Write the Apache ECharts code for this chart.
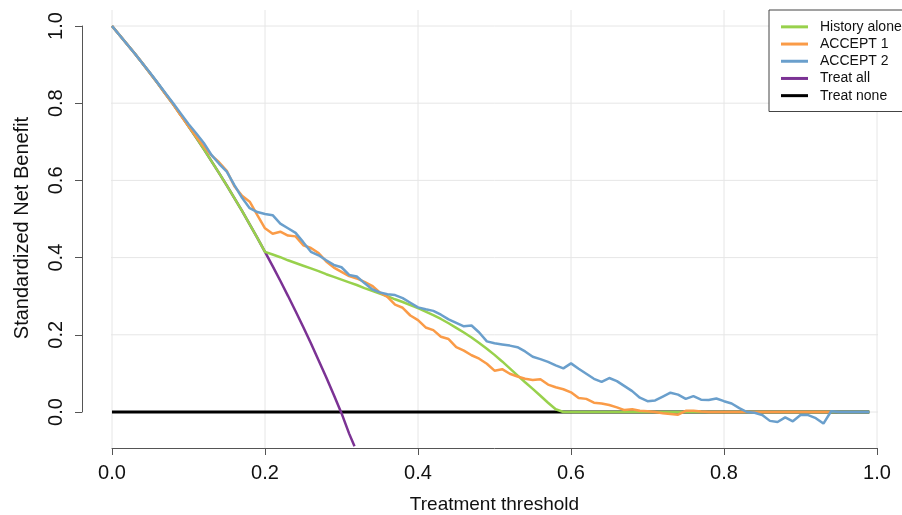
<!DOCTYPE html>
<html>
<head>
<meta charset="utf-8">
<script src="https://cdn.jsdelivr.net/npm/echarts@6/dist/echarts.min.js"></script>
<style>html,body{margin:0;padding:0;background:#fff;}#c{width:902px;height:515px;}</style>
</head>
<body>
<div id="c"></div>
<script>
// ---- data ----
var thresholds = [0.00,0.01,0.02,0.03,0.04,0.05,0.06,0.07,0.08,0.09,0.10,0.11,0.12,0.13,0.14,0.15,0.16,0.17,0.18,0.19,0.20,0.21,0.22,0.23,0.24,0.25,0.26,0.27,0.28,0.29,0.30,0.31,0.32,0.33,0.34,0.35,0.36,0.37,0.38,0.39,0.40,0.41,0.42,0.43,0.44,0.45,0.46,0.47,0.48,0.49,0.50,0.51,0.52,0.53,0.54,0.55,0.56,0.57,0.58,0.59,0.60,0.61,0.62,0.63,0.64,0.65,0.66,0.67,0.68,0.69,0.70,0.71,0.72,0.73,0.74,0.75,0.76,0.77,0.78,0.79,0.80,0.81,0.82,0.83,0.84,0.85,0.86,0.87,0.88,0.89,0.90,0.91,0.92,0.93,0.94,0.95,0.96,0.97,0.98,0.99];
var historyAlone = [1.000,0.976,0.952,0.928,0.903,0.877,0.851,0.824,0.797,0.769,0.740,0.711,0.681,0.650,0.619,0.587,0.554,0.521,0.486,0.451,0.415,0.408,0.401,0.393,0.386,0.379,0.372,0.365,0.357,0.350,0.343,0.336,0.329,0.321,0.314,0.307,0.300,0.292,0.285,0.277,0.269,0.260,0.251,0.241,0.230,0.218,0.206,0.193,0.179,0.164,0.148,0.131,0.113,0.095,0.077,0.060,0.042,0.024,0.007,0,0,0,0,0,0,0,0,0,0,0,0,0,0,0,0,0,0,0,0,0,0,0,0,0,0,0,0,0,0,0,0,0,0,0,0,0,0,0,0,0];
var accept1 = [1.000,0.976,0.952,0.928,0.903,0.877,0.851,0.823,0.797,0.768,0.741,0.714,0.688,0.665,0.647,0.625,0.585,0.560,0.545,0.510,0.476,0.462,0.467,0.457,0.455,0.432,0.425,0.412,0.390,0.374,0.363,0.352,0.346,0.337,0.327,0.310,0.298,0.278,0.270,0.250,0.238,0.219,0.212,0.195,0.189,0.168,0.159,0.147,0.138,0.125,0.107,0.111,0.099,0.092,0.086,0.083,0.085,0.071,0.064,0.059,0.051,0.036,0.034,0.024,0.022,0.018,0.012,0.005,0.007,0.003,0.002,0.000,-0.003,-0.005,-0.007,0.003,0.003,0.001,0,0,0,0,0,0,0,0,0,0,0,0,0,0,0,0,0];
var accept2 = [1.000,0.976,0.952,0.928,0.903,0.878,0.852,0.826,0.800,0.773,0.746,0.722,0.697,0.666,0.643,0.623,0.588,0.555,0.528,0.518,0.513,0.510,0.488,0.476,0.464,0.440,0.415,0.406,0.393,0.381,0.375,0.355,0.351,0.334,0.318,0.310,0.305,0.303,0.295,0.283,0.271,0.266,0.262,0.252,0.240,0.231,0.222,0.224,0.206,0.183,0.178,0.175,0.172,0.168,0.157,0.143,0.137,0.130,0.121,0.113,0.126,0.112,0.099,0.086,0.078,0.088,0.080,0.067,0.054,0.037,0.028,0.030,0.040,0.050,0.045,0.034,0.041,0.032,0.031,0.035,0.028,0.022,0.010,0.000,-0.002,-0.008,-0.023,-0.026,-0.014,-0.024,-0.008,-0.008,-0.016,-0.030,0.002,0,0,0,0,0];
var treatAllX = [0.00,0.01,0.02,0.03,0.04,0.05,0.06,0.07,0.08,0.09,0.10,0.11,0.12,0.13,0.14,0.15,0.16,0.17,0.18,0.19,0.20,0.21,0.22,0.23,0.24,0.25,0.26,0.27,0.28,0.29,0.30,0.31,0.317];
var treatAll = [1.000,0.976,0.952,0.928,0.903,0.877,0.851,0.824,0.797,0.769,0.740,0.711,0.681,0.650,0.619,0.587,0.554,0.521,0.486,0.451,0.415,0.378,0.340,0.301,0.261,0.220,0.178,0.134,0.090,0.044,-0.003,-0.056,-0.089];
var treatNoneX = [0.00,0.99];
var treatNone = [0,0];
var tickValues = [0.0,0.2,0.4,0.6,0.8,1.0];
var plotRangeX = [-0.04,1.04];
var plotRangeY = [-0.0933,1.0415];

function pairs(xs, ys){ return ys.map(function(v,i){ return [xs[i], v]; }); }

var FONT = '"Liberation Sans", Arial, Helvetica, sans-serif';
var chart = echarts.init(document.getElementById('c'), null, {renderer:'canvas'});
function lineSeries(name, data, color, width, z){
  return {name:name, type:'line', data:data, symbol:'none', clip:false, z:z,
          lineStyle:{color:color, width:width}, itemStyle:{color:color}, animation:false};
}
var gridSeries = [];
tickValues.forEach(function(t){
  gridSeries.push({type:'line', silent:true, symbol:'none', clip:false, z:0, animation:false,
    data:[[t, plotRangeY[0]],[t, plotRangeY[1]]], lineStyle:{color:'#e6e6e6', width:1}});
  gridSeries.push({type:'line', silent:true, symbol:'none', clip:false, z:0, animation:false,
    data:[[plotRangeX[0], t],[plotRangeX[1], t]], lineStyle:{color:'#e6e6e6', width:1}});
});

chart.setOption({
  animation:false,
  backgroundColor:'#fff',
  grid:{left:112, width:765, top:26, height:386, outerBoundsMode:'none', containLabel:false},
  xAxis:{type:'value', min:0, max:1, interval:0.2, offset:36,
    axisLine:{show:true, onZero:false, lineStyle:{color:'#555', width:1}},
    axisTick:{show:true, length:7, lineStyle:{color:'#555'}},
    axisLabel:{fontSize:20, color:'#111', margin:15, fontFamily:FONT, formatter:function(v){return v.toFixed(1);}},
    splitLine:{show:false},
    name:'Treatment threshold', nameLocation:'middle', nameGap:47,
    nameTextStyle:{fontSize:19, color:'#111', fontFamily:FONT}},
  yAxis:{type:'value', min:0, max:1, interval:0.2, offset:30,
    axisLine:{show:true, onZero:false, lineStyle:{color:'#555', width:1}},
    axisTick:{show:true, length:7, lineStyle:{color:'#555'}},
    axisLabel:{fontSize:20, color:'#111', margin:16, rotate:90, fontFamily:FONT, formatter:function(v){return v.toFixed(1);}},
    splitLine:{show:false},
    name:'Standardized Net Benefit', nameLocation:'middle', nameGap:50, nameRotate:90,
    nameTextStyle:{fontSize:20, color:'#111', fontFamily:FONT, padding:[0,18,0,0]}},
  legend:{
    data:['History alone','ACCEPT 1','ACCEPT 2','Treat all','Treat none'],
    orient:'vertical', left:769, top:10, icon:'rect',
    backgroundColor:'#fff', borderColor:'#444', borderWidth:1, borderRadius:0,
    padding:[9,20,8,12],
    itemWidth:27, itemHeight:3, itemGap:1.5,
    textStyle:{fontSize:14, color:'#111', fontFamily:FONT, padding:[0,0,0,7], lineHeight:15.7},
    selectedMode:false
  },
  series: gridSeries.concat([
    lineSeries('Treat none', pairs(treatNoneX, treatNone), '#000000', 3, 2),
    lineSeries('Treat all', pairs(treatAllX, treatAll), '#7b3294', 2.5, 3),
    lineSeries('History alone', pairs(thresholds, historyAlone), '#98d14c', 2.5, 4),
    lineSeries('ACCEPT 1', pairs(thresholds, accept1), '#fa9b47', 2.5, 5),
    lineSeries('ACCEPT 2', pairs(thresholds, accept2), '#6a9fcc', 2.5, 6)
  ])
});
</script>
</body>
</html>
